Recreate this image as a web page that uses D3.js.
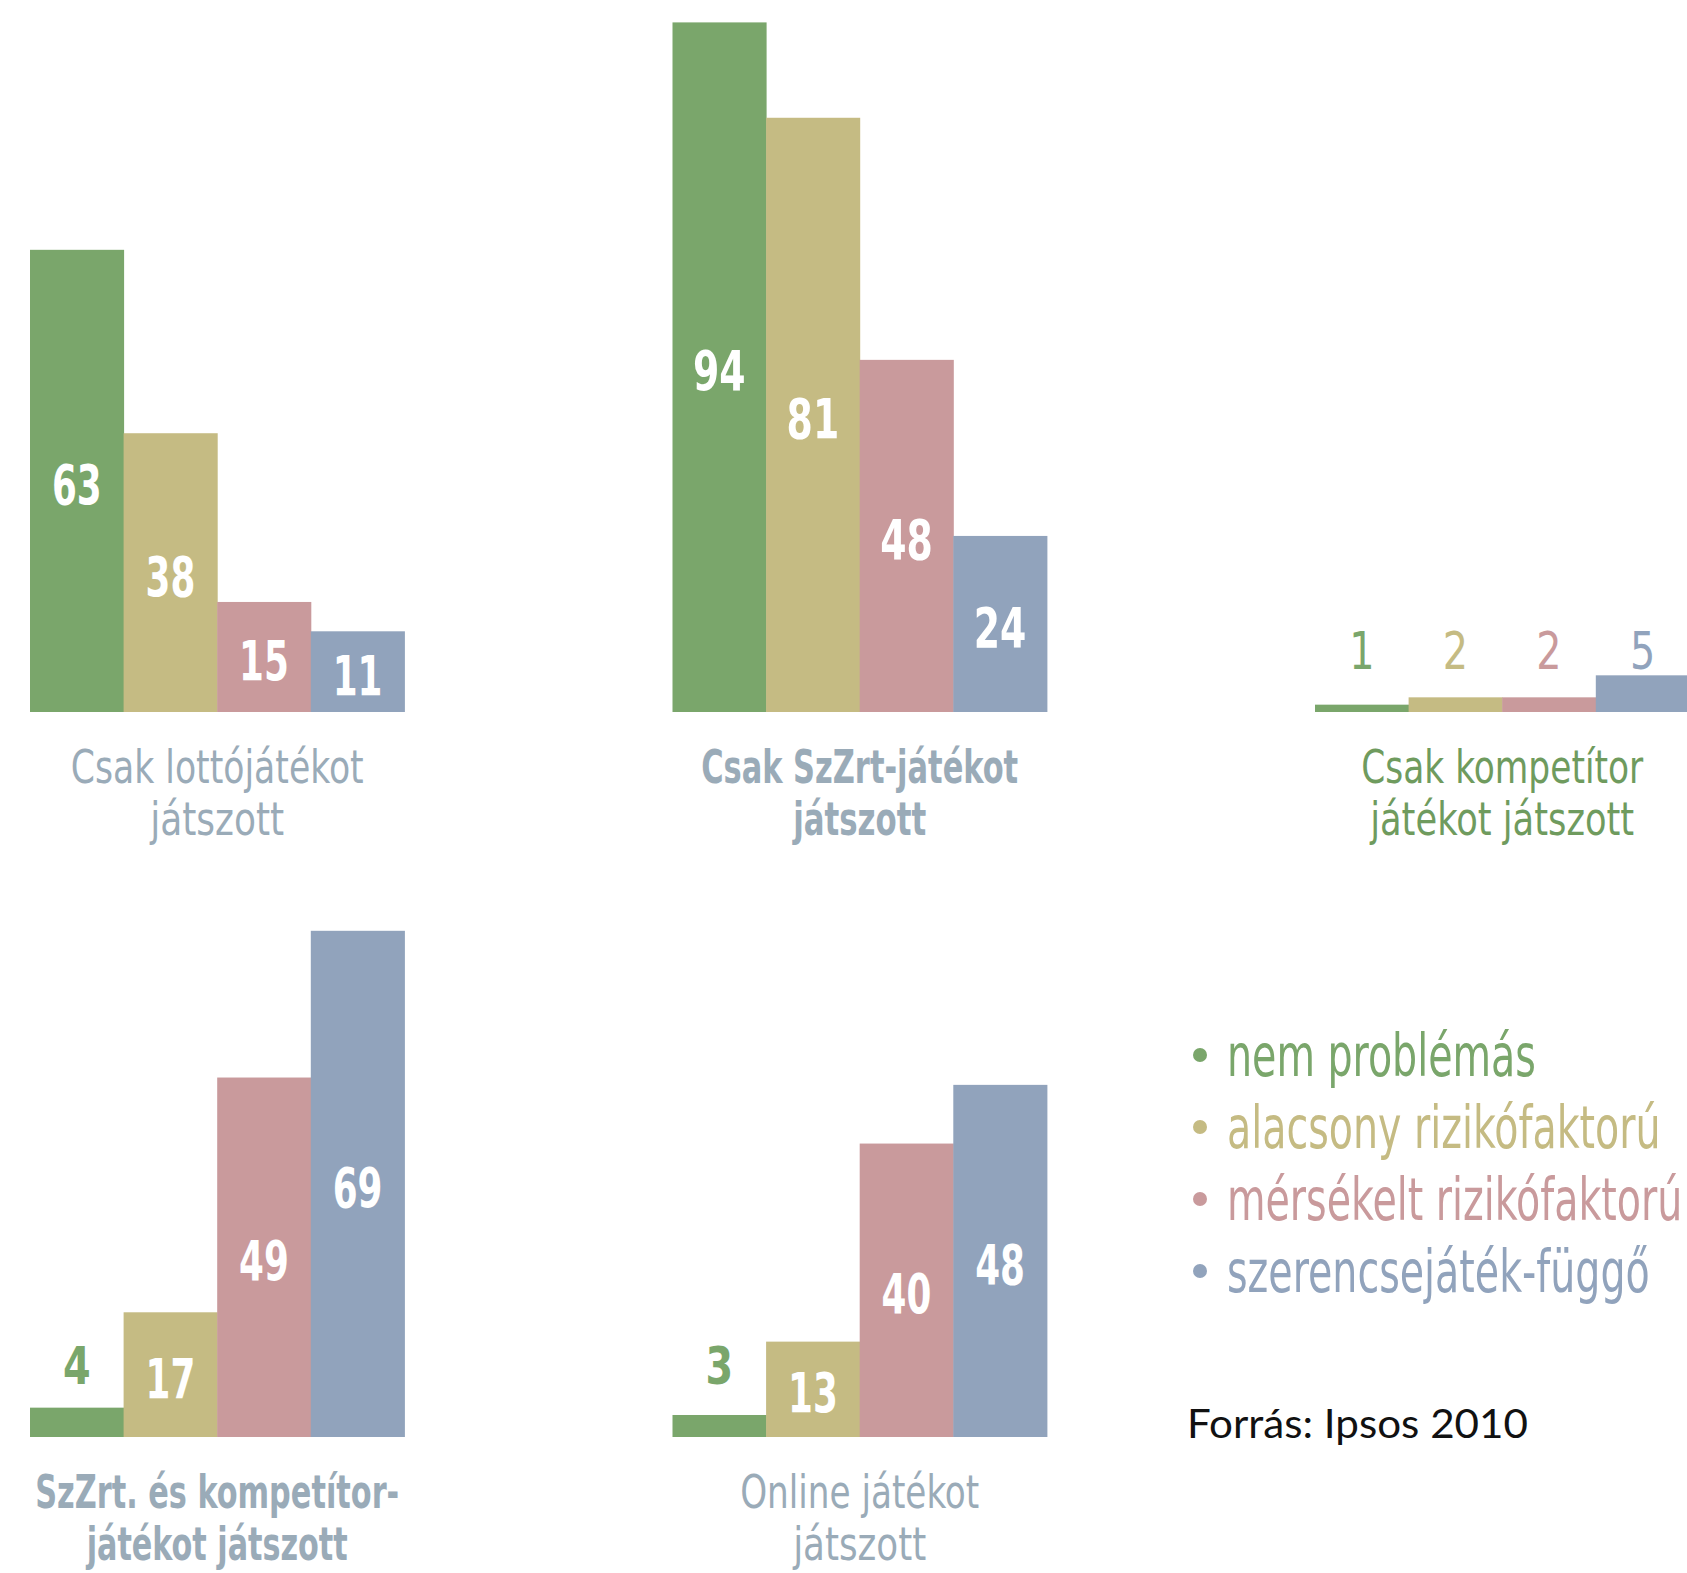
<!DOCTYPE html>
<html><head><meta charset="utf-8">
<script src="https://cdn.jsdelivr.net/npm/d3@7"></script>
<style>body{margin:0;background:#fff}svg{display:block}</style>
</head><body><svg id="c" width="1687" height="1573"></svg>
<script>
// ---- data ----
const series = ["nem problémás", "alacsony rizikófaktorú", "mérsékelt rizikófaktorú", "szerencsejáték-függő"];
const seriesColors = ["#7aa66b", "#c5bb83", "#c99a9c", "#91a3bc"];
const categories = [
  ["Csak lottójátékot", "játszott"],
  ["Csak SzZrt-játékot", "játszott"],
  ["Csak kompetítor", "játékot játszott"],
  ["SzZrt. és kompetítor-", "játékot játszott"],
  ["Online játékot", "játszott"]
];
const valuesLotto = [63, 38, 15, 11];
const valuesSzZrt = [94, 81, 48, 24];
const valuesKompetitor = [1, 2, 2, 5];
const valuesSzZrtEsKompetitor = [4, 17, 49, 69];
const valuesOnline = [3, 13, 40, 48];
const sourceText = "Forrás: Ipsos 2010";

// ---- layout ----
const panelValues = [valuesLotto, valuesSzZrt, valuesKompetitor, valuesSzZrtEsKompetitor, valuesOnline];
const panels = [
  {x0: 30,    base: 712,  aboveOff: 43, labelColor: "#9aabb8", wide: false, lineW: [293, 134], valScale: 0.71},
  {x0: 672.5, base: 712,  aboveOff: 43, labelColor: "#9aabb8", wide: true,  lineW: [317, 133], valScale: 0.75},
  {x0: 1315,  base: 712,  aboveOff: 43, labelColor: "#6f9b5e", wide: false, lineW: [282, 264], valScale: 0.71},
  {x0: 30,    base: 1437, aboveOff: 53, labelColor: "#9aabb8", wide: true,  lineW: [364, 261], valScale: 0.71},
  {x0: 672.5, base: 1437, aboveOff: 53, labelColor: "#9aabb8", wide: false, lineW: [239, 133], valScale: 0.71}
];
const bandW = 93.6;
const condensed = "'DejaVu Sans Condensed','DejaVu Sans',sans-serif";

const svg = d3.select("#c");
const h = d3.scaleLinear().domain([0, 94]).range([0, 689.6]);

panels.forEach((p, i) => {
  const vals = panelValues[i];
  const x = d3.scaleBand().domain(series).range([p.x0, p.x0 + 4 * bandW]).padding(0);
  const g = svg.append("g");
  const data = series.map((s, j) => ({s, v: vals[j], c: seriesColors[j]}));
  g.selectAll("rect").data(data).join("rect")
    .attr("x", d => x(d.s))
    .attr("width", x.bandwidth() + 0.5)
    .attr("y", d => p.base - h(d.v))
    .attr("height", d => h(d.v))
    .attr("fill", d => d.c);
  g.selectAll("text.val").data(data).join("text")
    .attr("class", "val")
    .attr("text-anchor", "middle")
    .attr("font-family", condensed)
    .attr("font-weight", d => (d.v <= 5 && i === 2) ? "normal" : "bold")
    .attr("font-size", d => d.v <= 5 ? 52 : 56)
    .attr("fill", d => d.v <= 5 ? d.c : "#fff")
    .attr("transform", d => {
      const cx = x(d.s) + x.bandwidth() / 2;
      const cy = d.v <= 5 ? p.base - p.aboveOff : p.base - h(d.v) / 2 + 23;
      const sx = d.v <= 5 ? 0.85 : p.valScale;
      return `translate(${cx},${cy}) scale(${sx},1)`;
    })
    .text(d => d.v);
  const cx = p.x0 + 2 * bandW;
  categories[i].forEach((line, k) => {
    g.append("text")
      .attr("x", cx)
      .attr("y", p.base + 71 + k * 52)
      .attr("text-anchor", "middle")
      .attr("font-family", condensed)
      .attr("font-weight", p.wide ? "bold" : "normal")
      .attr("font-size", 46)
      .attr("fill", p.labelColor)
      .attr("textLength", p.lineW[k])
      .attr("lengthAdjust", "spacingAndGlyphs")
      .text(line);
  });
});

// legend
const lg = svg.append("g");
const legendTexts = [];
series.forEach((s, j) => {
  const y = 1076 + j * 72;
  lg.append("circle").attr("cx", 1200).attr("cy", y - 21).attr("r", 7).attr("fill", seriesColors[j]);
  const t = lg.append("text")
    .attr("font-family", condensed)
    .attr("font-size", 58)
    .attr("fill", seriesColors[j])
    .attr("data-y", y)
    .text(s);
  legendTexts.push(t);
});
const firstLen = legendTexts[0].node().getComputedTextLength() || 400;
const legScale = 309 / firstLen;
legendTexts.forEach(t => t.attr("transform", `translate(1227,${t.attr("data-y")}) scale(${legScale},1)`));

svg.append("text")
  .attr("x", 1187).attr("y", 1438)
  .attr("font-family", "Lato, 'Noto Sans', sans-serif")
  .attr("font-size", 41)
  .attr("fill", "#111")
  .attr("textLength", 341)
  .attr("lengthAdjust", "spacingAndGlyphs")
  .text(sourceText);
</script></body></html>
